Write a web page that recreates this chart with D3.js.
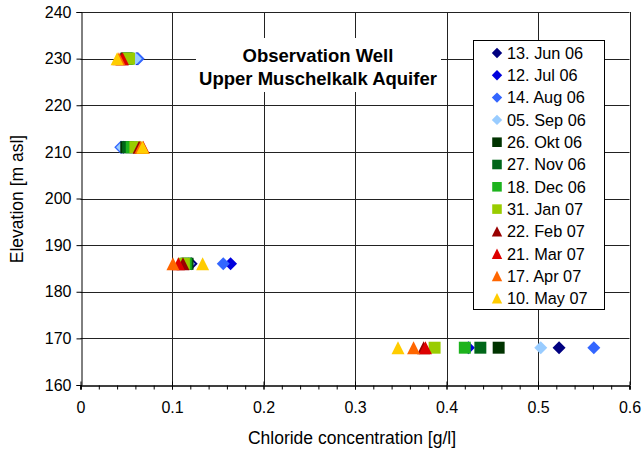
<!DOCTYPE html>
<html><head><meta charset="utf-8">
<script src="https://cdn.jsdelivr.net/npm/d3@7"></script>
<style>body{margin:0;background:#fff}svg{display:block;font-family:"Liberation Sans",Arial,sans-serif}</style>
</head><body><svg id="c" width="644" height="450"></svg>
<script>
const seriesNames = ["13. Jun 06","12. Jul 06","14. Aug 06","05. Sep 06","26. Okt 06","27. Nov 06","18. Dec 06","31. Jan 07","22. Feb 07","21. Mar 07","17. Apr 07","10. May 07"];
const seriesColors = ["#000080","#0000dd","#3366ff","#99ccff","#003300","#006619","#1db31d","#99cc00","#990000","#dd0000","#ff6600","#ffcc00"];
const seriesShapes = ["diamond","diamond","diamond","diamond","square","square","square","square","triangle","triangle","triangle","triangle"];
const elevations = [230, 211, 186, 168];
// chloride [g/l] per series (legend order) at each elevation
const cl230 = [0.062,0.061,0.063,0.060,0.050,0.051,0.052,0.053,0.045,0.046,0.042,0.040];
const cl211 = [0.047,0.045,0.044,0.046,0.050,0.052,0.056,0.060,0.064,0.0685,0.066,0.068];
const cl186 = [0.121,0.164,0.156,0.118,0.117,0.116,0.115,0.113,0.112,0.107,0.101,0.1335];
const cl168 = [0.523,0.424,0.561,0.503,0.457,0.437,0.420,0.387,0.375,0.377,0.364,0.347];
const xTicks = [0,0.1,0.2,0.3,0.4,0.5,0.6];
const yTicks = [160,170,180,190,200,210,220,230,240];
const titleLines = ["Observation Well","Upper Muschelkalk Aquifer"];

const svg = d3.select("#c");
const x = d3.scaleLinear().domain([0,0.6]).range([80.5,629.5]);
const y = d3.scaleLinear().domain([160,240]).range([385,12]);

function shapePath(shape, s){
  if(shape==="diamond") return `M0,${-s}L${s},0L0,${s}L${-s},0Z`;
  if(shape==="square") return `M${-s*0.92},${-s*0.92}H${s*0.92}V${s*0.92}H${-s*0.92}Z`;
  return `M0,${-s}L${s},${s}L${-s},${s}Z`;
}

// gridlines
const g = svg.append("g");
g.selectAll(".hg").data(yTicks.slice(1)).join("line")
  .attr("x1",x(0)).attr("x2",x(0.6)).attr("y1",d=>Math.round(y(d))+0.5).attr("y2",d=>Math.round(y(d))+0.5)
  .attr("stroke","#222").attr("stroke-width",1);
g.selectAll(".vg").data(xTicks.slice(1)).join("line")
  .attr("x1",d=>Math.round(x(d))+0.5).attr("x2",d=>Math.round(x(d))+0.5).attr("y1",y(240)).attr("y2",y(160))
  .attr("stroke","#222").attr("stroke-width",1);

// title box
svg.append("rect").attr("x",196).attr("y",38).attr("width",245).attr("height",54).attr("fill","#fff");
svg.append("text").attr("x",318).attr("y",62).attr("text-anchor","middle").attr("font-size",18.5).attr("font-weight","bold").text(titleLines[0]);
svg.append("text").attr("x",318).attr("y",85).attr("text-anchor","middle").attr("font-size",18.5).attr("font-weight","bold").text(titleLines[1]);

// axes
const yAxis = d3.axisLeft(y).tickValues(yTicks).tickSize(5).tickPadding(5).tickFormat(d3.format("d"));
const ya = svg.append("g").attr("transform",`translate(${Math.round(x(0))+0.5},0)`).call(yAxis);
const xAxis = d3.axisBottom(x).tickValues(xTicks).tickSize(4).tickPadding(12).tickFormat(d=>d===0?"0":d3.format(".1f")(d));
const xa = svg.append("g").attr("transform",`translate(0,${Math.round(y(160))+0.5})`).call(xAxis);
const minor = d3.range(0,0.6001,0.02);
svg.append("g").attr("transform",`translate(0,${Math.round(y(160))+0.5})`)
  .call(d3.axisBottom(x).tickValues(minor).tickSize(4).tickFormat(""));
[ya,xa].forEach(a=>{a.selectAll("text").attr("font-size",16).attr("fill","#000");a.selectAll("line,path").attr("stroke","#000");});
xa.selectAll(".tick line").attr("y1",-4);
svg.selectAll(".domain").attr("stroke","#000");

svg.append("text").attr("transform","translate(23,199) rotate(-90)").attr("text-anchor","middle").attr("font-size",17.5).text("Elevation [m asl]");
svg.append("text").attr("x",352).attr("y",444).attr("text-anchor","middle").attr("font-size",17.5).text("Chloride concentration [g/l]");

// points
const clByElev = [cl230, cl211, cl186, cl168];
const pts = [];
seriesNames.forEach((n,i)=>{
  elevations.forEach((e,j)=>pts.push({i, x:clByElev[j][i], e}));
});
svg.append("g").selectAll("path").data(pts).join("path")
  .attr("transform",d=>`translate(${x(d.x)},${y(d.e)})`)
  .attr("d",d=>shapePath(seriesShapes[d.i],6.5))
  .attr("fill",d=>seriesColors[d.i]);

// legend
const lg = svg.append("g");
lg.append("rect").attr("x",473.5).attr("y",40.5).attr("width",131).attr("height",269).attr("fill","#fff").attr("stroke","#000");
const items = lg.selectAll("g.it").data(seriesNames).join("g")
  .attr("transform",(d,i)=>`translate(497,${53+i*22.3})`);
items.append("path").attr("d",(d,i)=>shapePath(seriesShapes[i],5.2)).attr("fill",(d,i)=>seriesColors[i]);
items.append("text").attr("x",10).attr("dy","0.36em").attr("font-size",16.3).text(d=>d);
</script></body></html>
